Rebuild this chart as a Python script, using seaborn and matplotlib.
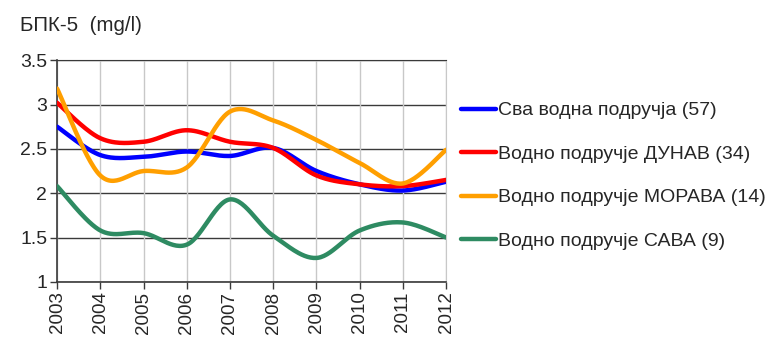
import numpy as np
import pandas as pd
import matplotlib
matplotlib.use("Agg")
import matplotlib.pyplot as plt
import seaborn as sns

# ==========================================
# DATA
# ==========================================

years = [2003, 2004, 2005, 2006, 2007, 2008, 2009, 2010, 2011, 2012]

all_areas = [2.75, 2.43, 2.41, 2.47, 2.42, 2.51, 2.25, 2.10, 2.03, 2.13]
dunav = [3.02, 2.62, 2.58, 2.71, 2.58, 2.51, 2.20, 2.10, 2.08, 2.15]
morava = [3.18, 2.20, 2.25, 2.29, 2.92, 2.82, 2.60, 2.34, 2.11, 2.49]
sava = [2.08, 1.58, 1.55, 1.42, 1.93, 1.52, 1.27, 1.58, 1.67, 1.50]

series_names = [
    "Сва водна подручја (57)",
    "Водно подручје ДУНАВ (34)",
    "Водно подручје МОРАВА (14)",
    "Водно подручје САВА (9)",
]
series_values = [all_areas, dunav, morava, sava]
colors = ["#0000FF", "#FF0000", "#FF9F00", "#2E8B62"]

y_ticks = [1, 1.5, 2, 2.5, 3, 3.5]
y_tick_labels = ["1", "1.5", "2", "2.5", "3", "3.5"]
title = "БПК-5  (mg/l)"


def smooth(x, y, steps=30):
    """Excel-like smoothed line (Bezier through the points)."""
    x = np.asarray(x, float)
    y = np.asarray(y, float)
    px = np.concatenate([[x[0]], x, [x[-1]]])
    py = np.concatenate([[y[0]], y, [y[-1]]])
    out_x, out_y = [], []
    t = np.linspace(0, 1, steps)
    for i in range(1, len(px) - 2):
        p0 = np.array([px[i], py[i]])
        p3 = np.array([px[i + 1], py[i + 1]])
        p1 = p0 + (np.array([px[i + 1], py[i + 1]]) - np.array([px[i - 1], py[i - 1]])) / 6
        p2 = p3 - (np.array([px[i + 2], py[i + 2]]) - np.array([px[i], py[i]])) / 6
        b = ((1 - t) ** 3)[:, None] * p0 + (3 * (1 - t) ** 2 * t)[:, None] * p1 \
            + (3 * (1 - t) * t ** 2)[:, None] * p2 + (t ** 3)[:, None] * p3
        out_x.extend(b[:, 0])
        out_y.extend(b[:, 1])
    return out_x, out_y


rows = []
for name, vals in zip(series_names, series_values):
    sx, sy = smooth(years, vals)
    for i, (a, b) in enumerate(zip(sx, sy)):
        rows.append({"year": a, "value": b, "series": name, "order": i})
df = pd.DataFrame(rows)

# ==========================================
# PLOT
# ==========================================

sns.set_style("white")
plt.rcParams["font.family"] = ["Liberation Sans", "DejaVu Sans"]

fig = plt.figure(figsize=(7.76, 3.38), dpi=100)
ax = fig.add_axes([0.0735, 0.166, 0.5015, 0.656])

# grid first
for y in y_ticks:
    ax.axhline(y, color="#3a3a3a", lw=1.0, zorder=1)
for x in years:
    ax.axvline(x, color="#c8c8c8", lw=1.0, zorder=1)

sns.lineplot(data=df, x="year", y="value", hue="series", hue_order=series_names,
             palette=colors, units="series", estimator=None, sort=False,
             lw=3.2, ax=ax, zorder=3, legend=True)

ax.set_xlim(2003, 2012)
ax.set_ylim(1, 3.5)
ax.set_xticks(years)
ax.set_xticklabels([str(y) for y in years], rotation=90, fontsize=13.5)
ax.set_yticks(y_ticks)
ax.set_yticklabels(y_tick_labels, fontsize=14)
ax.set_xlabel("")
ax.set_ylabel("")
ax.tick_params(axis="both", length=5, width=1, color="#3a3a3a", pad=2, direction="out")
ax.tick_params(axis="y", left=True)
ax.tick_params(axis="x", bottom=True)

for side in ["left", "bottom"]:
    ax.spines[side].set_color("#3a3a3a")
    ax.spines[side].set_linewidth(1.2)
ax.spines["top"].set_color("#3a3a3a")
ax.spines["right"].set_color("#c8c8c8")

leg = ax.legend(loc="upper left", bbox_to_anchor=(1.017, 0.847), frameon=False,
                fontsize=14, handlelength=1.8, handletextpad=0.12,
                labelspacing=1.33, borderaxespad=0)
for line in leg.get_lines():
    line.set_linewidth(3.2)

fig.text(0.026, 0.925, title, fontsize=14.8, va="center", ha="left")

plt.savefig("out.png", dpi=100)
plt.close()
